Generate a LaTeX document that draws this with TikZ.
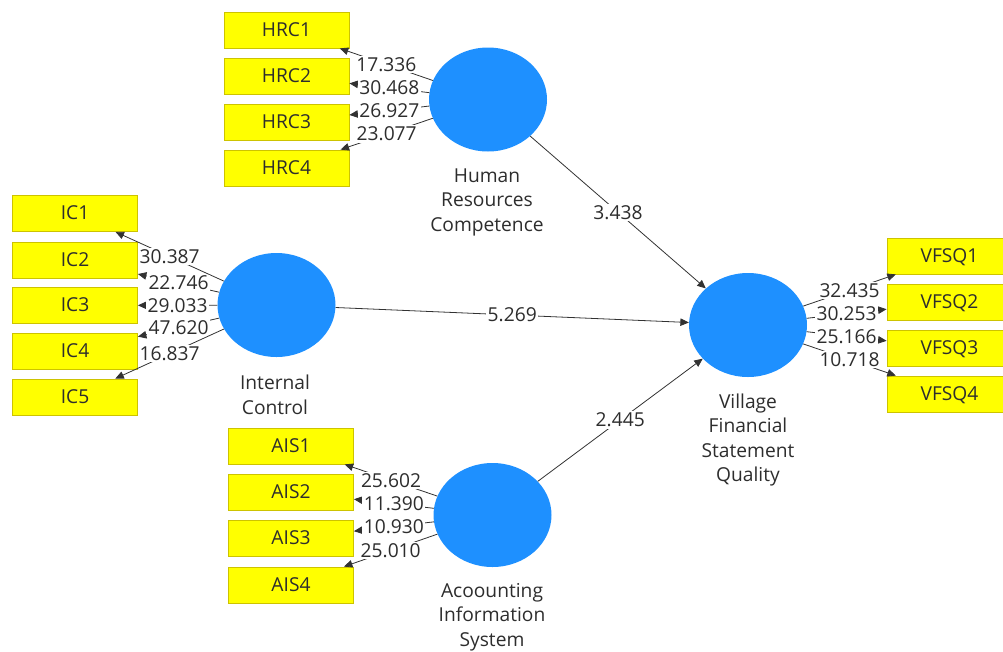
\documentclass[tikz,border=0pt]{standalone}
\usepackage{fontspec}
\setmainfont{Open Sans}
\usetikzlibrary{arrows.meta,shapes.geometric}
\definecolor{lvblue}{RGB}{30,144,255}
\definecolor{mvyellow}{RGB}{255,255,0}
\definecolor{mvborder}{RGB}{205,195,0}
\definecolor{txt}{RGB}{45,45,45}
\definecolor{edgec}{RGB}{50,50,50}
\begin{document}
\begin{tikzpicture}[x=1pt,y=-1pt,
  font=\fontsize{19.2}{24.5}\selectfont, text=txt,
  lv/.style={ellipse, fill=lvblue, minimum width=118pt, minimum height=104pt, inner sep=0pt},
  mv/.style={rectangle, fill=mvyellow, draw=mvborder, line width=0.8pt, minimum width=125pt, minimum height=36pt, inner sep=0pt, text depth=1pt},
  lvlabel/.style={align=center, inner sep=0pt},
  conn/.style={draw=edgec, line width=0.8pt, -{Triangle[length=8.5pt,width=7.5pt]}},
  coef/.style={fill=white, inner sep=1.5pt, text=txt}
]
\useasboundingbox (0,0) rectangle (1003,651);

% latent variables
\node[lv] (HRC) at (488,99.5) {};
\node[lv] (IC) at (276.5,305) {};
\node[lv] (AIS) at (492.5,515) {};
\node[lv] (VFSQ) at (748,325) {};

\node[lvlabel] (HRCl) at (487,202) {Human\\Resources\\Competence};
\node[lvlabel] (ICl) at (275,395) {Internal\\Control};
\node[lvlabel] (AISl) at (492,617) {Acoounting\\Information\\System};
\node[lvlabel] (VFSQl) at (748,440) {Village\\Financial\\Statement\\Quality};

% indicators
\node[mv] (HRC1) at (286.5,30) {HRC1};
\node[mv] (HRC2) at (286.5,76) {HRC2};
\node[mv] (HRC3) at (286.5,122) {HRC3};
\node[mv] (HRC4) at (286.5,168) {HRC4};

\node[mv] (IC1) at (75,213.5) {IC1};
\node[mv] (IC2) at (75,260) {IC2};
\node[mv] (IC3) at (75,305.5) {IC3};
\node[mv] (IC4) at (75,351) {IC4};
\node[mv] (IC5) at (75,397) {IC5};

\node[mv] (AIS1) at (291,446) {AIS1};
\node[mv] (AIS2) at (291,492) {AIS2};
\node[mv] (AIS3) at (291,538.5) {AIS3};
\node[mv] (AIS4) at (291,585) {AIS4};

\node[mv] (VFSQ1) at (949.5,256) {VFSQ1};
\node[mv] (VFSQ2) at (949.5,302) {VFSQ2};
\node[mv] (VFSQ3) at (949.5,348) {VFSQ3};
\node[mv] (VFSQ4) at (949.5,394) {VFSQ4};

% loadings
\draw[conn] (HRC) -- node[coef] {17.336} (HRC1);
\draw[conn] (HRC) -- node[coef] {30.468} (HRC2);
\draw[conn] (HRC) -- node[coef] {26.927} (HRC3);
\draw[conn] (HRC) -- node[coef] {23.077} (HRC4);

\draw[conn] (IC) -- node[coef] {30.387} (IC1);
\draw[conn] (IC) -- node[coef] {22.746} (IC2);
\draw[conn] (IC) -- node[coef] {29.033} (IC3);
\draw[conn] (IC) -- node[coef] {47.620} (IC4);
\draw[conn] (IC) -- node[coef] {16.837} (IC5);

\draw[conn] (AIS) -- node[coef] {25.602} (AIS1);
\draw[conn] (AIS) -- node[coef] {11.390} (AIS2);
\draw[conn] (AIS) -- node[coef] {10.930} (AIS3);
\draw[conn] (AIS) -- node[coef] {25.010} (AIS4);

\draw[conn] (VFSQ) -- node[coef] {32.435} (VFSQ1);
\draw[conn] (VFSQ) -- node[coef] {30.253} (VFSQ2);
\draw[conn] (VFSQ) -- node[coef] {25.166} (VFSQ3);
\draw[conn] (VFSQ) -- node[coef] {10.718} (VFSQ4);

% paths
\draw[conn] (HRC) -- node[coef] {3.438} (VFSQ);
\draw[conn] (IC) -- node[coef] {5.269} (VFSQ);
\draw[conn] (AIS) -- node[coef] {2.445} (VFSQ);
\end{tikzpicture}
\end{document}
